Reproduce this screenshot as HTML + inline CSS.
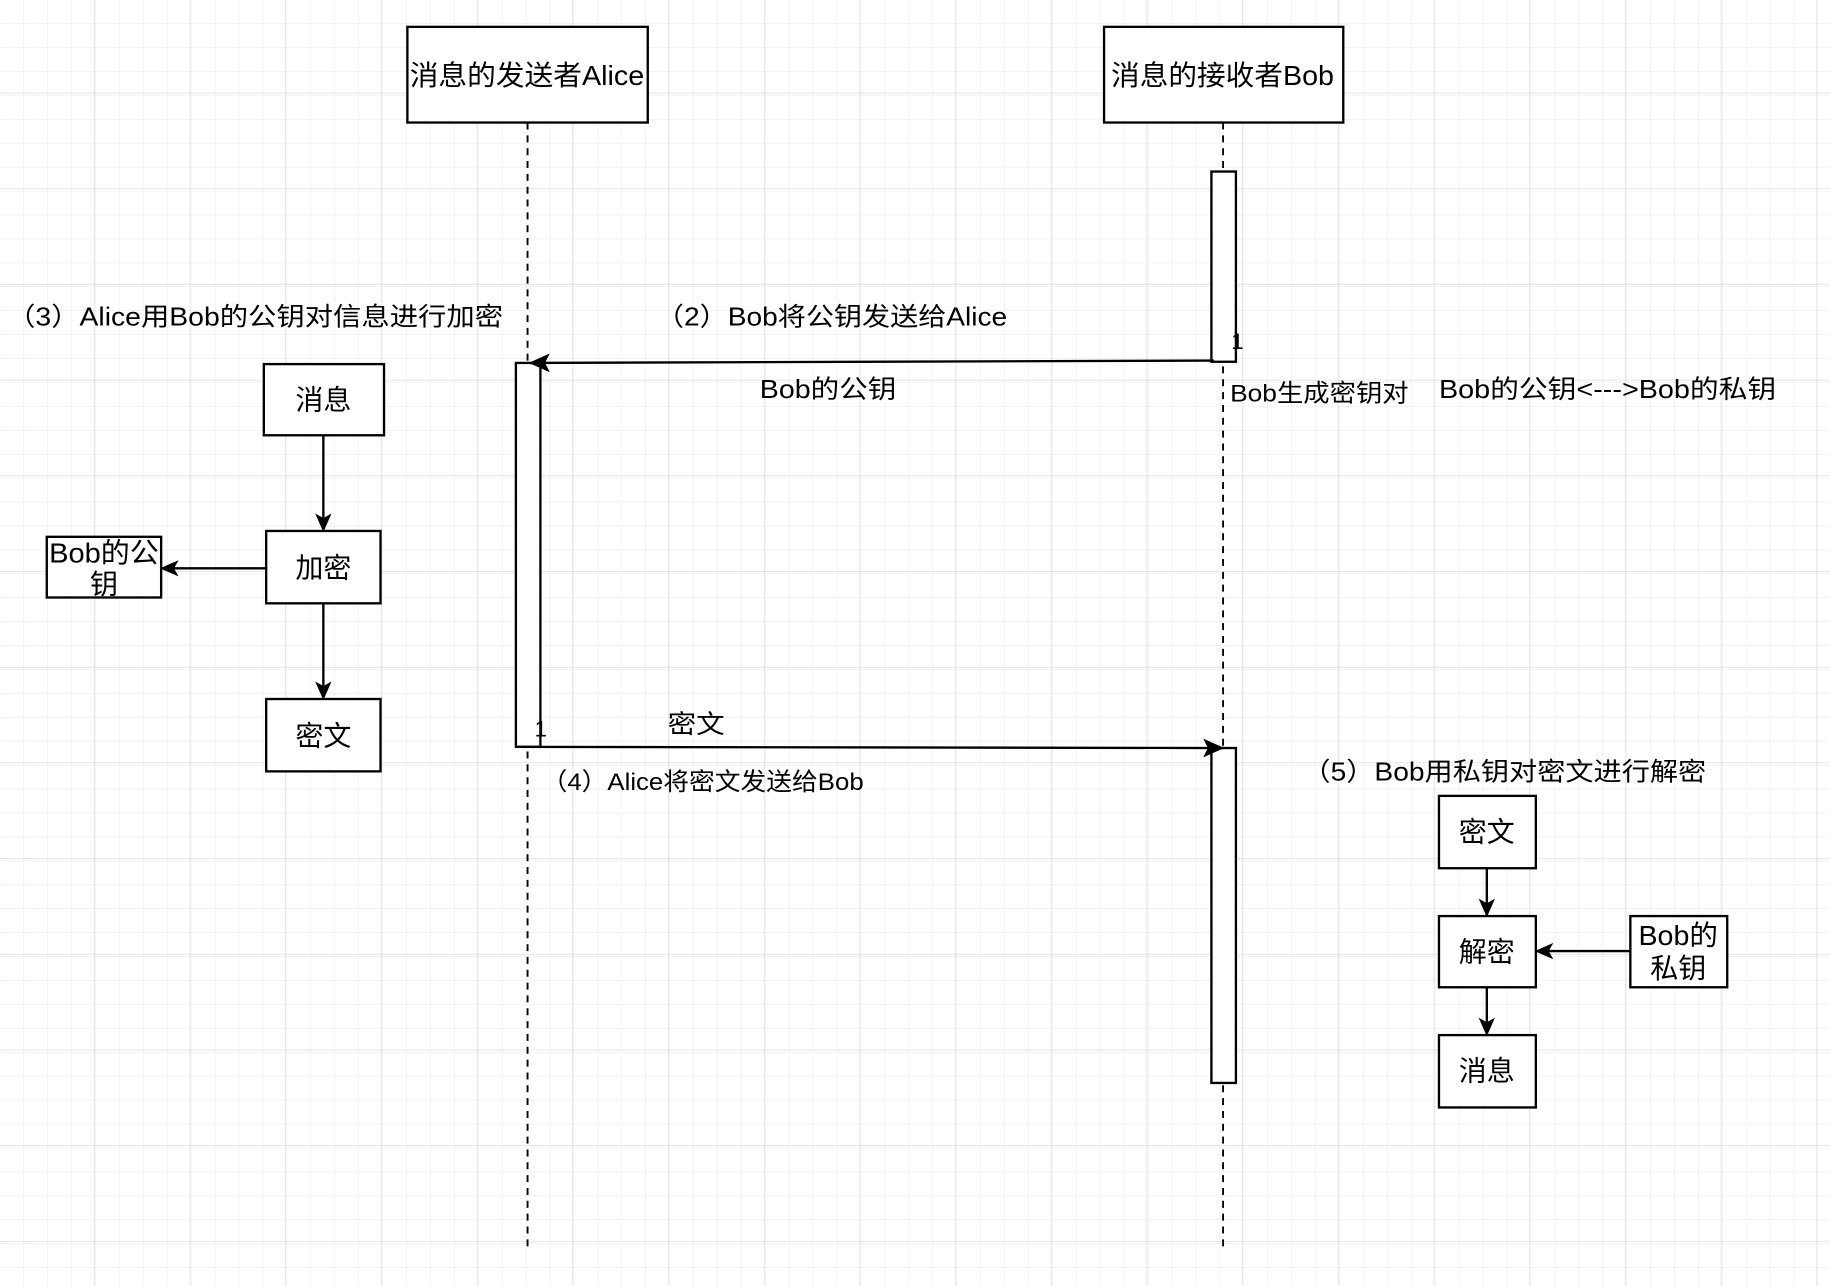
<!DOCTYPE html>
<html><head><meta charset="utf-8"><style>
html,body{margin:0;padding:0;background:#fff;}
svg{display:block;}
text{font-family:"Liberation Sans","Noto Sans CJK SC",sans-serif;fill:#000;}
</style></head><body>
<svg width="1830" height="1286" viewBox="0 0 1568 1102" xmlns="http://www.w3.org/2000/svg">
<defs>
<pattern id="minor" width="20.5" height="20.5" patternUnits="userSpaceOnUse" x="0" y="0">
<path d="M20.5 0V20.5M0 20.5H20.5" stroke="#ebebeb" stroke-width="1" fill="none"/>
</pattern>
<pattern id="major" width="82" height="82" patternUnits="userSpaceOnUse" x="-1" y="-2">
<path d="M82 0V82M0 82H82" stroke="#d6d6d6" stroke-width="1" fill="none"/>
</pattern>
<marker id="ah" markerWidth="16" markerHeight="14" refX="15" refY="7" orient="auto" markerUnits="userSpaceOnUse">
<path d="M0,0 L16,7 L0,14 L4,7 Z" fill="#000"/>
</marker>
<marker id="ah2" markerWidth="18" markerHeight="16" refX="17" refY="8" orient="auto" markerUnits="userSpaceOnUse">
<path d="M0,0 L18,8 L0,16 L4,8 Z" fill="#000"/>
</marker>
</defs>
<rect width="1568" height="1102" fill="#fff"/>
<rect width="1568" height="1102" fill="url(#minor)"/>
<rect width="1568" height="1102" fill="url(#major)"/>

<g stroke="#000" stroke-width="2" fill="#fff">
<rect x="349" y="23" width="206" height="82"/>
<rect x="946" y="23" width="205" height="82"/>
</g>
<text x="351" y="73" font-size="24" textLength="201" lengthAdjust="spacingAndGlyphs">消息的发送者Alice</text>
<text x="952" y="73" font-size="24" textLength="191" lengthAdjust="spacingAndGlyphs">消息的接收者Bob</text>

<g stroke="#000" stroke-width="1.6" stroke-dasharray="6,5" fill="none">
<line x1="452" y1="105" x2="452" y2="1072"/>
<line x1="1048" y1="105" x2="1048" y2="1072"/>
</g>

<g stroke="#000" stroke-width="2" fill="#fff">
<rect x="1038" y="147" width="21" height="163"/>
<rect x="442" y="311" width="21" height="329"/>
<rect x="1038" y="641" width="21" height="287"/>
</g>

<g stroke="#000" stroke-width="2" fill="none">
<line x1="1040" y1="309" x2="454" y2="311" marker-end="url(#ah2)"/>
<line x1="444" y1="640" x2="1048" y2="641" marker-end="url(#ah2)"/>
</g>
<text x="1055" y="299" font-size="19">1</text>
<text x="458" y="631" font-size="19">1</text>

<g font-size="22">
<text x="562" y="279" textLength="301" lengthAdjust="spacingAndGlyphs">（2）Bob将公钥发送给Alice</text>
<text x="6" y="279" textLength="425" lengthAdjust="spacingAndGlyphs">（3）Alice用Bob的公钥对信息进行加密</text>
<text x="651" y="341" textLength="117" lengthAdjust="spacingAndGlyphs">Bob的公钥</text>
<text x="1233" y="341" textLength="289" lengthAdjust="spacingAndGlyphs">Bob的公钥&lt;---&gt;Bob的私钥</text>
<text x="572" y="628" textLength="49" lengthAdjust="spacingAndGlyphs">密文</text>
<text x="1116" y="669" textLength="346" lengthAdjust="spacingAndGlyphs">（5）Bob用私钥对密文进行解密</text>
</g>
<text x="1054" y="344" font-size="21" textLength="153" lengthAdjust="spacingAndGlyphs">Bob生成密钥对</text>
<text x="464" y="677" font-size="21" textLength="276" lengthAdjust="spacingAndGlyphs">（4）Alice将密文发送给Bob</text>

<g stroke="#000" stroke-width="2" fill="#fff">
<rect x="226" y="312" width="103" height="61"/>
<rect x="228" y="455" width="98" height="62"/>
<rect x="228" y="599" width="98" height="62"/>
<rect x="40" y="460" width="98" height="52"/>
<rect x="1233" y="682" width="83" height="62"/>
<rect x="1233" y="785" width="83" height="61"/>
<rect x="1233" y="887" width="83" height="62"/>
<rect x="1397" y="785" width="83" height="61"/>
</g>
<g stroke="#000" stroke-width="2" fill="none">
<line x1="277" y1="373" x2="277" y2="455" marker-end="url(#ah)"/>
<line x1="277" y1="517" x2="277" y2="599" marker-end="url(#ah)"/>
<line x1="228" y1="487" x2="138" y2="487" marker-end="url(#ah)"/>
<line x1="1274" y1="744" x2="1274" y2="785" marker-end="url(#ah)"/>
<line x1="1274" y1="846" x2="1274" y2="887" marker-end="url(#ah)"/>
<line x1="1397" y1="815" x2="1316" y2="815" marker-end="url(#ah)"/>
</g>
<g font-size="24" text-anchor="middle">
<text x="277" y="351">消息</text>
<text x="277" y="495">加密</text>
<text x="277" y="639">密文</text>
<text x="89" y="482" textLength="94" lengthAdjust="spacingAndGlyphs">Bob的公</text>
<text x="89" y="509">钥</text>
<text x="1274" y="721">密文</text>
<text x="1274" y="824">解密</text>
<text x="1274" y="926">消息</text>
<text x="1438" y="810" textLength="68" lengthAdjust="spacingAndGlyphs">Bob的</text>
<text x="1438" y="838">私钥</text>
</g>
</svg>
</body></html>
